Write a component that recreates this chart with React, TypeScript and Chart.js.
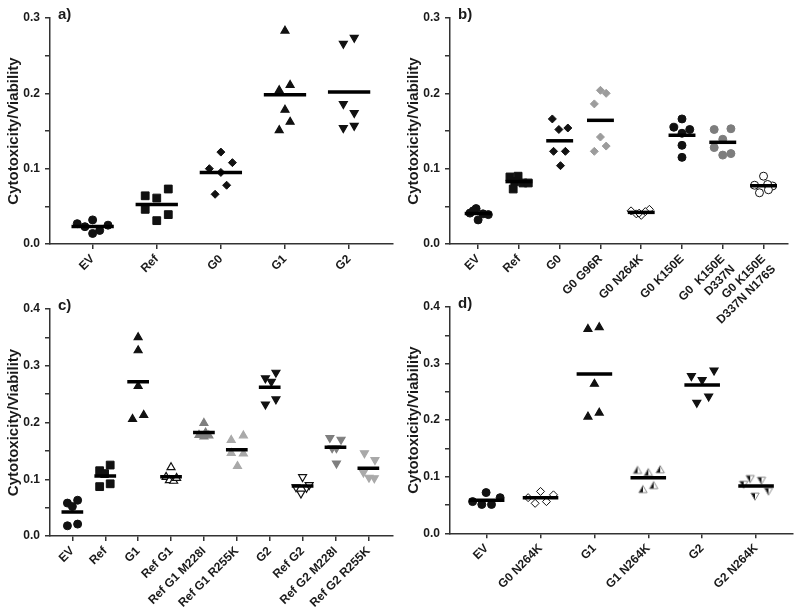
import React, { useEffect, useRef } from 'react';
import { Chart, registerables } from 'chart.js';
Chart.register(...registerables);

const FONT = "'Liberation Sans', Arial, sans-serif";
const TEXT = '#1a1a1a';
const AXIS = '#333333';
const BLACK = '#111111';
const DARKGREY = '#7f7f7f';
const LIGHTGREY = '#a9a9a9';

// ---------- Panel a ----------
const aCategories = ['EV', 'Ref', 'G0', 'G1', 'G2'];
const aValues = [
  [0.027, 0.023, 0.032, 0.014, 0.018, 0.025],
  [0.064, 0.046, 0.061, 0.031, 0.073, 0.039],
  [0.100, 0.122, 0.095, 0.066, 0.078, 0.108],
  [0.283, 0.204, 0.211, 0.178, 0.151, 0.162],
  [0.266, 0.274, 0.186, 0.174, 0.154, 0.157],
];
const aJitter = [
  [-0.24, -0.12, 0, 0, 0.11, 0.24],
  [-0.18, -0.18, 0, 0, 0.18, 0.18],
  [-0.18, 0, 0, -0.09, 0.09, 0.18],
  [0, -0.09, 0.08, 0, -0.09, 0.08],
  [-0.09, 0.08, -0.09, 0.08, -0.09, 0.08],
];
const aYTicks = [0, 0.05, 0.1, 0.15, 0.2, 0.25, 0.3];

// ---------- Panel b ----------
const bCategories: (string | string[])[] = [
  'EV', 'Ref', 'G0', 'G0 G96R', 'G0 N264K', 'G0 K150E', ['G0  K150E', 'D337N'], ['G0 K150E', 'D337N N176S'],
];
const bValues = [
  [0.041, 0.047, 0.032, 0.040, 0.039, 0.044],
  [0.089, 0.090, 0.073, 0.081, 0.083, 0.081],
  [0.166, 0.152, 0.154, 0.123, 0.123, 0.104],
  [0.204, 0.200, 0.186, 0.142, 0.130, 0.123],
  [0.044, 0.040, 0.046, 0.038, 0.043, 0.041],
  [0.166, 0.155, 0.152, 0.147, 0.131, 0.115],
  [0.152, 0.153, 0.139, 0.128, 0.118, 0.120],
  [0.090, 0.078, 0.077, 0.079, 0.068, 0.072],
];
const bJitter = [
  [-0.2, -0.05, 0, 0.12, 0.25, -0.12],
  [-0.22, -0.02, -0.14, 0.1, -0.1, 0.23],
  [-0.18, -0.02, 0.2, -0.15, 0.14, 0.02],
  [0, 0.14, -0.15, 0, 0.14, -0.15],
  [-0.25, -0.12, 0.2, 0, 0.1, -0.05],
  [0, -0.2, 0.19, 0, 0, 0],
  [-0.21, 0.2, 0, -0.21, 0, 0.2],
  [0, -0.22, 0.22, 0.1, -0.1, 0.12],
];
const bYTicks = [0, 0.05, 0.1, 0.15, 0.2, 0.25, 0.3];

// ---------- Panel c ----------
const cCategories = ['EV', 'Ref', 'G1', 'Ref G1', 'Ref G1 M228I', 'Ref G1 R255K', 'G2', 'Ref G2', 'Ref G2 M228I', 'Ref G2 R255K'];
const cValues = [
  [0.058, 0.052, 0.063, 0.018, 0.021],
  [0.115, 0.125, 0.087, 0.092, 0.110],
  [0.350, 0.327, 0.264, 0.206, 0.213],
  [0.121, 0.104, 0.098, 0.097, 0.102],
  [0.199, 0.178, 0.175, 0.177, 0.182],
  [0.169, 0.177, 0.146, 0.145, 0.123],
  [0.278, 0.272, 0.288, 0.232, 0.241],
  [0.104, 0.075, 0.086, 0.085, 0.090],
  [0.173, 0.170, 0.155, 0.128, 0.155],
  [0.146, 0.134, 0.112, 0.103, 0.102],
];
const cJitter = [
  [-0.15, 0, 0.16, -0.15, 0.16],
  [-0.17, 0.15, -0.17, 0.15, -0.02],
  [0, 0, 0, -0.17, 0.17],
  [0, -0.15, -0.05, 0.08, 0.17],
  [0, -0.15, 0, 0.15, 0.05],
  [-0.17, 0.2, -0.17, 0.2, 0.02],
  [-0.13, 0.05, 0.19, -0.13, 0.19],
  [0, -0.05, -0.2, 0.12, 0.2],
  [-0.17, 0.17, 0.03, 0.03, -0.1],
  [-0.12, 0.2, -0.15, 0.02, 0.18],
];
const cYTicks = [0, 0.05, 0.1, 0.15, 0.2, 0.25, 0.3, 0.35, 0.4];

// ---------- Panel d ----------
const dCategories = ['EV', 'G0 N264K', 'G1', 'G1 N264K', 'G2', 'G2 N264K'];
const dValues = [
  [0.056, 0.072, 0.051, 0.051, 0.063],
  [0.074, 0.053, 0.056, 0.068, 0.063],
  [0.361, 0.364, 0.264, 0.206, 0.213],
  [0.111, 0.107, 0.112, 0.077, 0.084],
  [0.278, 0.271, 0.288, 0.231, 0.242],
  [0.097, 0.094, 0.087, 0.066, 0.075],
];
const dJitter = [
  [-0.26, -0.01, -0.09, 0.09, 0.25],
  [0, -0.1, 0.11, 0.24, -0.23],
  [-0.12, 0.09, 0, -0.12, 0.09],
  [-0.2, 0, 0.22, -0.1, 0.1],
  [-0.2, 0, 0.22, -0.1, 0.12],
  [-0.11, 0.1, -0.23, -0.02, 0.23],
];
const dYTicks = [0, 0.05, 0.1, 0.15, 0.2, 0.25, 0.3, 0.35, 0.4];

type Marker = { style: any; radius: number; fill: string; stroke: string; bw?: number; rot?: number };

function halfTriangle(down: boolean, r: number): HTMLCanvasElement {
  const size = Math.ceil(r * 2 + 4);
  const c = document.createElement('canvas');
  c.width = size;
  c.height = size;
  const ctx = c.getContext('2d')!;
  const cx = size / 2;
  const cy = size / 2 + (down ? -0.5 : 0.5);
  const s = down ? -1 : 1;
  const apex: [number, number] = [cx, cy - s * r];
  const bl: [number, number] = [cx - 0.866 * r, cy + s * r * 0.5];
  const br: [number, number] = [cx + 0.866 * r, cy + s * r * 0.5];
  ctx.beginPath();
  ctx.moveTo(apex[0], apex[1]);
  ctx.lineTo(bl[0], bl[1]);
  ctx.lineTo(br[0], br[1]);
  ctx.closePath();
  ctx.fillStyle = '#ffffff';
  ctx.fill();
  ctx.beginPath();
  ctx.moveTo(apex[0], apex[1]);
  ctx.lineTo(bl[0], bl[1]);
  ctx.lineTo(cx, cy + s * r * 0.5);
  ctx.closePath();
  ctx.fillStyle = BLACK;
  ctx.fill();
  ctx.beginPath();
  ctx.moveTo(apex[0], apex[1]);
  ctx.lineTo(bl[0], bl[1]);
  ctx.lineTo(br[0], br[1]);
  ctx.closePath();
  ctx.strokeStyle = '#8a8a8a';
  ctx.lineWidth = 1;
  ctx.stroke();
  return c;
}

const circle = (fill: string, stroke = fill): Marker => ({ style: 'circle', radius: 4, fill, stroke, bw: 1 });
const square = (): Marker => ({ style: 'rect', radius: 5.5, fill: BLACK, stroke: BLACK, bw: 1 });
const diamond = (fill: string, stroke = fill): Marker => ({ style: 'rectRot', radius: 4, fill, stroke, bw: 1 });
const tri = (fill: string, stroke = fill, down = false): Marker => ({ style: 'triangle', radius: 4.6, fill, stroke, bw: 1.2, rot: down ? 180 : 0 });

type Panel = {
  id: string;
  label: string;
  left: number; top: number; width: number; height: number;
  padTop: number; padRight: number; xAxisH: number; yAxisW: number;
  xMin: number; xMax: number; yMax: number;
  categories: (string | string[])[];
  values: number[][];
  jitter: number[][];
  yTicks: number[];
  markers: () => Marker[];
};

const panels: Panel[] = [
  {
    id: 'a', label: 'a)', left: 0, top: 0, width: 400, height: 300,
    padTop: 18, padRight: 7.3, xAxisH: 56, yAxisW: 50, xMin: -0.665, xMax: 4.68, yMax: 0.3,
    categories: aCategories, values: aValues, jitter: aJitter, yTicks: aYTicks,
    markers: () => [circle(BLACK), square(), diamond(BLACK), tri(BLACK), tri(BLACK, BLACK, true)],
  },
  {
    id: 'b', label: 'b)', left: 400, top: 0, width: 400, height: 330,
    padTop: 18, padRight: 12, xAxisH: 86, yAxisW: 50, xMin: -0.69, xMax: 7.6, yMax: 0.3,
    categories: bCategories, values: bValues, jitter: bJitter, yTicks: bYTicks,
    markers: () => [circle(BLACK), square(), diamond(BLACK), diamond('#9c9c9c'), diamond('#ffffff', BLACK), circle(BLACK), circle('#7d7d7d'), circle('#ffffff', BLACK)],
  },
  {
    id: 'c', label: 'c)', left: 0, top: 290, width: 400, height: 324,
    padTop: 19, padRight: 7.3, xAxisH: 78, yAxisW: 50, xMin: -0.68, xMax: 9.74, yMax: 0.4,
    categories: cCategories, values: cValues, jitter: cJitter, yTicks: cYTicks,
    markers: () => [
      circle(BLACK), square(), tri(BLACK), tri('#ffffff', BLACK), tri(DARKGREY), tri(LIGHTGREY),
      tri(BLACK, BLACK, true), tri('#ffffff', BLACK, true), tri(DARKGREY, DARKGREY, true), tri(LIGHTGREY, LIGHTGREY, true),
    ],
  },
  {
    id: 'd', label: 'd)', left: 400, top: 290, width: 400, height: 324,
    padTop: 17, padRight: 7.3, xAxisH: 80.7, yAxisW: 50, xMin: -0.68, xMax: 5.68, yMax: 0.4,
    categories: dCategories, values: dValues, jitter: dJitter, yTicks: dYTicks,
    markers: () => [
      circle(BLACK), diamond('#ffffff', BLACK), tri(BLACK),
      { style: halfTriangle(false, 4.8), radius: 5, fill: BLACK, stroke: BLACK },
      tri(BLACK, BLACK, true),
      { style: halfTriangle(true, 4.8), radius: 5, fill: BLACK, stroke: BLACK },
    ],
  },
];

function buildChart(canvas: HTMLCanvasElement, p: Panel): Chart {
  const markers = p.markers();
  const datasets: any[] = [];
  p.values.forEach((vals, i) => {
    const m = markers[i];
    datasets.push({
      data: vals.map((v, j) => ({ x: i + p.jitter[i][j], y: v })),
      pointStyle: m.style,
      pointRadius: m.radius,
      pointBackgroundColor: m.fill,
      pointBorderColor: m.stroke,
      pointBorderWidth: m.bw ?? 1,
      pointRotation: m.rot ?? 0,
      showLine: false,
      order: 2,
    });
    const mean = vals.reduce((s, v) => s + v, 0) / vals.length;
    datasets.push({
      data: [{ x: i - 0.33, y: mean }, { x: i + 0.33, y: mean }],
      showLine: true,
      borderColor: '#000000',
      borderWidth: 3.5,
      pointRadius: 0,
      order: 1,
    });
  });

  const titlePlugin = {
    id: 'panelTitle' + p.id,
    afterDraw(chart: any) {
      const { ctx, chartArea } = chart;
      ctx.save();
      ctx.font = `bold 15px ${FONT}`;
      ctx.fillStyle = TEXT;
      ctx.textBaseline = 'middle';
      ctx.textAlign = 'left';
      ctx.fillText(p.label, chartArea.left + 8, chartArea.top - 3);
      ctx.restore();
    },
  };

  const cats = p.categories;
  return new Chart(canvas, {
    type: 'scatter',
    data: { datasets },
    options: {
      animation: false,
      responsive: false,
      devicePixelRatio: 1,
      layout: { padding: { top: p.padTop, right: p.padRight, left: 0, bottom: 0 } },
      plugins: { legend: { display: false }, tooltip: { enabled: false } },
      scales: {
        x: {
          type: 'linear',
          min: p.xMin,
          max: p.xMax,
          afterBuildTicks: (s: any) => { s.ticks = cats.map((_, i) => ({ value: i })); },
          afterFit: (s: any) => { s.height = p.xAxisH; },
          ticks: {
            autoSkip: false,
            minRotation: 45,
            maxRotation: 45,
            padding: 3,
            color: TEXT,
            font: { family: FONT, size: 12, weight: 'bold' },
            callback: (v: any) => cats[Math.round(Number(v))] as any,
          },
          grid: { display: true, drawOnChartArea: false, drawTicks: true, tickLength: 5, color: AXIS, lineWidth: 1.5 },
          border: { display: true, color: AXIS, width: 1.5 },
        },
        y: {
          type: 'linear',
          min: 0,
          max: p.yMax,
          afterBuildTicks: (s: any) => { s.ticks = p.yTicks.map((v) => ({ value: v })); },
          afterFit: (s: any) => { s.width = p.yAxisW; },
          ticks: {
            padding: 5,
            color: TEXT,
            font: { family: FONT, size: 12, weight: 'bold' },
            callback: (v: any) => {
              const n = Number(v);
              return Math.abs(Math.round(n * 10) - n * 10) < 1e-6 ? n.toFixed(1) : '';
            },
          },
          grid: { display: true, drawOnChartArea: false, drawTicks: true, tickLength: 5, color: AXIS, lineWidth: 1.5 },
          border: { display: true, color: AXIS, width: 1.5 },
          title: {
            display: true,
            text: 'Cytotoxicity/Viability',
            color: TEXT,
            font: { family: FONT, size: 15, weight: 'bold' },
            padding: { top: 5, bottom: 0 },
          },
        },
      },
    } as any,
    plugins: [titlePlugin],
  });
}

function PanelCanvas({ p }: { p: Panel }) {
  const ref = useRef<HTMLCanvasElement>(null);
  useEffect(() => {
    if (!ref.current) return;
    const chart = buildChart(ref.current, p);
    return () => chart.destroy();
  }, [p]);
  return (
    <canvas
      ref={ref}
      width={p.width}
      height={p.height}
      style={{ position: 'absolute', left: p.left, top: p.top, width: p.width, height: p.height }}
    />
  );
}

export default function App() {
  return (
    <div style={{ position: 'fixed', left: 0, top: 0, width: 800, height: 614, background: '#ffffff', overflow: 'hidden' }}>
      {panels.map((p) => (
        <PanelCanvas key={p.id} p={p} />
      ))}
    </div>
  );
}
